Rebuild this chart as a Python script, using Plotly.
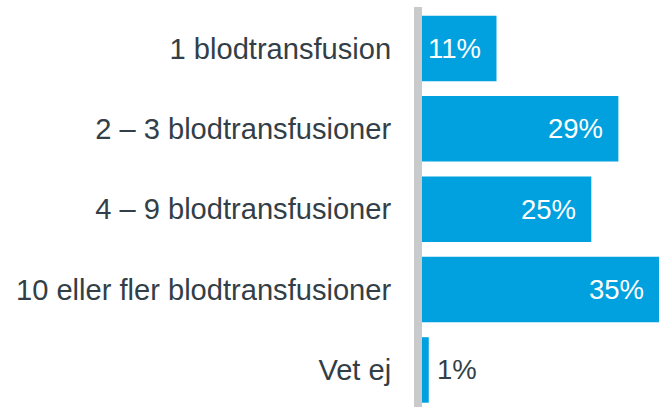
import plotly.graph_objects as go

categories = [
    "1 blodtransfusion",
    "2 – 3 blodtransfusioner",
    "4 – 9 blodtransfusioner",
    "10 eller fler blodtransfusioner",
    "Vet ej",
]
values = [11, 29, 25, 35, 1]
value_labels = [f"{v}%" for v in values]

BLUE = "#00A1DE"
DARK = "#333F48"
GRAY = "#C8CACC"
FONT = "Liberation Sans, Arial, sans-serif"

pos = list(range(len(categories)))

fig = go.Figure(
    go.Bar(
        x=values,
        y=pos,
        orientation="h",
        marker=dict(color=BLUE, line=dict(width=0)),
        width=0.815,
        hoverinfo="skip",
    )
)

for i, (v, lab) in enumerate(zip(values, value_labels)):
    inside = v >= 5
    fig.add_annotation(
        x=v,
        y=i,
        xref="x",
        yref="y",
        text=lab,
        showarrow=False,
        xanchor="right" if inside else "left",
        yanchor="middle",
        xshift=-13 if inside else 6,
        font=dict(family=FONT, size=27.5, color="white" if inside else DARK),
    )

fig.update_layout(
    width=659,
    height=407,
    margin=dict(l=422, r=0, t=7, b=0, pad=0),
    paper_bgcolor="white",
    plot_bgcolor="white",
    showlegend=False,
    xaxis=dict(range=[0, 35], visible=False, fixedrange=True),
    yaxis=dict(
        range=[4.461, -0.516],
        tickmode="array",
        tickvals=pos,
        ticktext=categories,
        showline=True,
        linewidth=8,
        linecolor=GRAY,
        showgrid=False,
        zeroline=False,
        ticks="",
        ticklabelstandoff=17,
        tickfont=dict(family=FONT, size=29.1, color=DARK),
        fixedrange=True,
    ),
)

fig.write_html(
    "out.html",
    config={"displayModeBar": False},
    post_script="document.body.style.margin='0';document.body.style.overflow='hidden';",
)
